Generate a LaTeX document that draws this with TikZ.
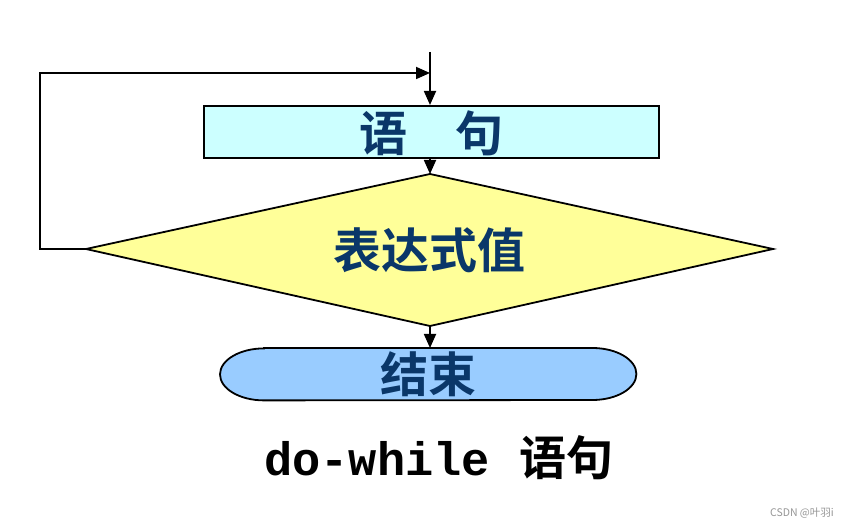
\documentclass[tikz,border=0pt]{standalone}
\usepackage{fontspec}
\setmainfont{Liberation Sans}
\newfontfamily\cjkb{Noto Sans CJK SC Bold}
\newfontfamily\cjkr{Noto Sans CJK SC}
\newfontfamily\monob{Liberation Mono}[BoldFont={* Bold}]
\usetikzlibrary{arrows.meta}
\definecolor{boxcyan}{RGB}{204,255,255}
\definecolor{diayellow}{RGB}{255,255,153}
\definecolor{endblue}{RGB}{153,204,255}
\definecolor{txtblue}{RGB}{10,55,105}
\definecolor{wmgray}{RGB}{150,150,150}
\begin{document}
\begin{tikzpicture}[x=1pt,y=-1pt,
  line/.style={line width=1.8pt,black},
  arr/.style={line, -{Triangle[length=14pt,width=12pt]}},
  shapeline/.style={line width=1.8pt, draw=black},
  lbl/.style={font=\cjkb\fontsize{48}{48}\selectfont, text=txtblue, inner sep=0pt}
]
\useasboundingbox (0,0) rectangle (849,529);
\fill[white] (0,0) rectangle (849,529);

% statement box
\node[shapeline, fill=boxcyan, minimum width=455pt, minimum height=52pt, inner sep=0pt,
      anchor=north west] (stmt) at (203,105) {};
\node[lbl] (stmttxt) at ([yshift=-1pt]stmt.center) {语　句};

% diamond
\coordinate (dtop) at (430,174);
\coordinate (dbot) at (430,326);
\coordinate (dleft) at (86,249);
\coordinate (dright) at (773,249);
\filldraw[shapeline, fill=diayellow, line join=miter] (dtop) -- (dright) -- (dbot) -- (dleft) -- cycle;
\node[lbl] (cond) at (429,250) {表达式值};

% end capsule
\node[minimum width=416pt, minimum height=52pt, inner sep=0pt, anchor=north west] (endn) at (220,348) {};
\filldraw[shapeline, fill=endblue]
  ([xshift=44pt]endn.north west) -- ([xshift=-44pt]endn.north east)
  arc[start angle=90, end angle=-90, x radius=44pt, y radius=26pt]
  -- ([xshift=44pt]endn.south west)
  arc[start angle=270, end angle=90, x radius=44pt, y radius=26pt] -- cycle;
\node[lbl] (endtxt) at (endn.center) {结束};

% connectors
\coordinate (entry) at (430,52);
\coordinate (lc1) at (40,249);
\coordinate (lc2) at (40,73);
\coordinate (lc3) at (430,73);
\draw[arr] (entry) -- (stmt.north -| entry);
\draw[arr] (stmt.south -| dtop) -- (dtop);
\draw[arr] (dbot) -- (endn.north -| dbot);
\draw[arr, line join=miter] (dleft) -- (lc1) -- (lc2) -- (lc3);

% caption
\node[anchor=base west, inner sep=0pt] (cap) at (264,475)
  {{\monob\bfseries\fontsize{47}{47}\selectfont do-while}\hspace{30pt}{\cjkb\fontsize{47}{47}\selectfont 语句}};

% watermark
\node[anchor=east, inner sep=0pt, text=wmgray, font=\cjkr\fontsize{10.5}{11}\selectfont] (wm) at (834,513) {CSDN @叶羽i};
\end{tikzpicture}
\end{document}
